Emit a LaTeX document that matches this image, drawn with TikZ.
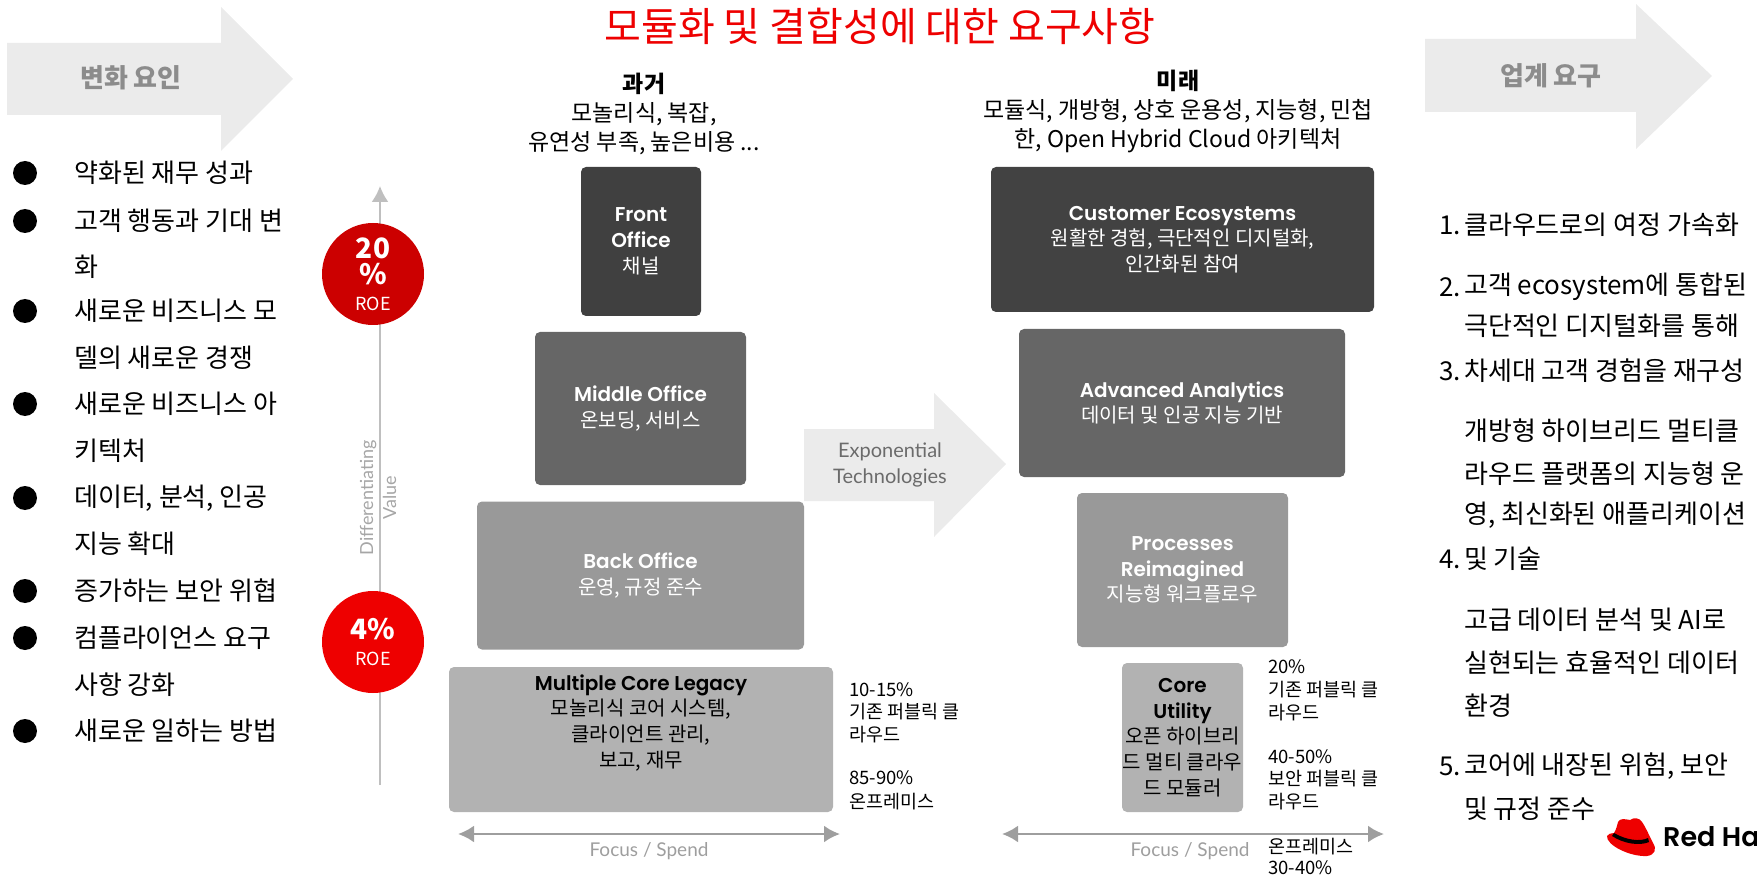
\documentclass[tikz,border=0pt]{standalone}
\usepackage{fontspec}
\setmainfont{Noto Sans CJK KR}
\newfontfamily\latinfont{Lato}
\newfontfamily\boldfont{Poppins}[BoldFont={Poppins SemiBold}]
\usetikzlibrary{arrows.meta, calc, positioning}
\definecolor{rhred}{HTML}{EE0000}
\definecolor{rhdark}{HTML}{CC0000}
\definecolor{pale}{HTML}{EBEBEB}
\newcommand{\fsz}[2]{\fontsize{#1}{#2}\selectfont}
\newcommand{\hd}[1]{{\boldfont\bfseries #1}}
\newcommand{\pct}[1]{{\bfseries\fsz{28}{33}\selectfont #1}}
\tikzset{
  listline/.style={anchor=west,inner sep=0pt,font=\fsz{26}{30}},
  blob/.style={circle,fill=black,minimum size=24pt,inner sep=0pt},
  headtext/.style={align=center,inner sep=0pt,font=\fsz{23}{29}},
  tier/.style={draw=none,rounded corners=5pt,align=center,inner sep=0pt,text=white,font=\fsz{20}{25.7}},
  sidetext/.style={anchor=west,inner sep=0pt,font=\fsz{18.5}{22}},
  graytext/.style={inner sep=0pt,align=center,text=black!58,font=\latinfont\fsz{20}{26}},
  spendline/.style={{Latex[length=16pt,width=17pt]}-{Latex[length=16pt,width=17pt]},line width=2.5pt,draw=black!38},
  roecircle/.style={circle,minimum size=102pt,inner sep=0pt,align=center,text=white,font=\fsz{18}{26}}
}
\begin{document}
\begin{tikzpicture}[x=1pt,y=-1pt]
  \useasboundingbox (0,0) rectangle (1757,877);

  % --- Title ---
  \node[inner sep=0pt,text=rhred,font=\fsz{40}{44}] (title) at (880,26) {모듈화 및 결합성에 대한 요구사항};

  % --- Block arrows ---
  \fill[pale] (7,43) -- (221,43) -- (221,7) -- (293,79) -- (221,151) -- (221,115) -- (7,115) -- cycle;
  \node[inner sep=0pt,text=black!45,font=\bfseries\fsz{26}{30}] (driver) at (131,78) {변화 요인};
  \fill[pale] (1425,39) -- (1636,39) -- (1636,4) -- (1712,76) -- (1636,149) -- (1636,112) -- (1425,112) -- cycle;
  \node[inner sep=0pt,text=black!45,font=\bfseries\fsz{26}{30}] (demand) at (1551,76) {업계 요구};
  \fill[pale] (804,429) -- (934,429) -- (934,393) -- (1006,464) -- (934,537) -- (934,501) -- (804,501) -- cycle;
  \node[graytext] (expo) at (890,465) {Exponential\\Technologies};

  % --- Left list ---
  \foreach \y in {173,221,311,404,498,591,638,731}{
    \node[blob] (dot\y) at (25,\y) {};
  }
  \foreach \y/\t in {173/약화된 재무 성과,221/고객 행동과 기대 변,267/화,311/새로운 비즈니스 모,358/델의 새로운 경쟁,
  404/새로운 비즈니스 아,451/키텍처,498/{데이터, 분석, 인공},544/지능 확대,591/증가하는 보안 위협,
  638/컴플라이언스 요구,685/사항 강화,731/새로운 일하는 방법}{
    \node[listline] (left\y) at (74,\y) {\t};
  }

  % --- Value axis ---
  \coordinate (axisbot) at (380,785);
  \coordinate (axistop) at (380,186);
  \draw[-{Latex[length=16pt,width=17pt]},line width=2pt,draw=black!25] (axisbot) -- (axistop);
  \node[roecircle,fill=rhdark] (high) at (373,274) {\pct{20}\\\pct{\%}\\ROE};
  \node[roecircle,fill=rhred] (low) at (373,642) {\pct{4\%}\\ROE};
  \node[inner sep=0pt,rotate=90,align=center,text=black!35,font=\latinfont\fsz{18}{23}] (diff) at (378,498) {Differentiating\\Value};

  % --- Past column ---
  \node[headtext] (past) at (644,114) {\textbf{과거}\\모놀리식, 복잡,\\유연성 부족, 높은비용 ...};
  \node[tier,fill=black!75,minimum width=120pt,minimum height=149pt] (front) at (641,241.5)
    {\hd{Front}\\\hd{Office}\\채널};
  \node[tier,fill=black!60,minimum width=211pt,minimum height=153pt] (middle) at (640.5,408.5)
    {\hd{Middle Office}\\온보딩, 서비스};
  \node[tier,fill=black!40,minimum width=327pt,minimum height=148pt] (back) at (640.5,575.5)
    {\hd{Back Office}\\운영, 규정 준수};
  \node[tier,fill=black!30,text=black,minimum width=384pt,minimum height=145pt] (legacy) at (641,739.5)
    {\hd{Multiple Core Legacy}\\모놀리식 코어 시스템,\\클라이언트 관리,\\보고, 재무\\[4pt]\strut};
  \foreach \y/\t in {690/10-15\%,712/기존 퍼블릭 클,735/라우드,778/85-90\%,802/온프레미스}{
    \node[sidetext] (pastside\y) at (849,\y) {\t};
  }

  % --- Future column ---
  \node[headtext] (future) at (1178,111) {\textbf{미래}\\모듈식, 개방형, 상호 운용성, 지능형, 민첩\\한, Open Hybrid Cloud 아키텍처};
  \node[tier,fill=black!74,minimum width=383pt,minimum height=145pt] (customer) at (1182.5,239.5)
    {\hd{Customer Ecosystems}\\원활한 경험, 극단적인 디지털화,\\인간화된 참여};
  \node[tier,fill=black!60,minimum width=326pt,minimum height=148pt] (analytics) at (1182,403)
    {\hd{Advanced Analytics}\\데이터 및 인공 지능 기반};
  \node[tier,fill=black!40,minimum width=211pt,minimum height=154pt] (process) at (1182.5,570)
    {\hd{Processes}\\\hd{Reimagined}\\지능형 워크플로우};
  \node[tier,fill=black!30,text=black,minimum width=121pt,minimum height=149pt] (core) at (1182.5,737.5)
    {\hd{Core}\\\hd{Utility}\\오픈 하이브리\\드 멀티 클라우\\드 모듈러};
  \foreach \y/\t in {667/20\%,690/기존 퍼블릭 클,713/라우드,757/40-50\%,779/보안 퍼블릭 클,802/라우드,847/온프레미스,868/30-40\%}{
    \node[sidetext] (futureside\y) at (1268,\y) {\t};
  }

  % --- Focus arrows ---
  \coordinate (pastl) at (458,834);
  \coordinate (pastr) at (840,834);
  \coordinate (futl) at (1002,834);
  \coordinate (futr) at (1384,834);
  \draw[spendline] (pastl) -- (pastr);
  \draw[spendline] (futl) -- (futr);
  \node[inner sep=0pt,text=black!38,font=\latinfont\fsz{19}{22}] (spendpast) at (649,851) {Focus / Spend};
  \node[inner sep=0pt,text=black!38,font=\latinfont\fsz{19}{22}] (spendfut) at (1190,851) {Focus / Spend};

  % --- Right list ---
  \foreach \y/\n in {225/1.,287/2.,371/3.,559/4.,766/5.}{
    \node[listline] (num\y) at (1439,\y) {\n};
  }
  \foreach \y/\t in {225/클라우드로의 여정 가속화,287/고객 ecosystem에 통합된,326/극단적인 디지털화를 통해,
  371/차세대 고객 경험을 재구성,431/개방형 하이브리드 멀티클,474/라우드 플랫폼의 지능형 운,
  515/{영, 최신화된 애플리케이션},559/및 기술,620/고급 데이터 분석 및 AI로,663/실현되는 효율적인 데이터,
  706/환경,766/{코어에 내장된 위험, 보안},809/및 규정 준수}{
    \node[listline] (right\y) at (1464,\y) {\t};
  }

  % --- Logo ---
  \fill[rhred] (1607,836) .. controls (1606,845) and (1630,857) .. (1647,856)
    .. controls (1655,855) and (1657,849) .. (1653,843)
    .. controls (1649,835) and (1645,826) .. (1642,822)
    .. controls (1640,818) and (1634,817) .. (1630,820)
    .. controls (1625,819) and (1620,818) .. (1618,822)
    .. controls (1617,826) and (1616,830) .. (1614,833)
    .. controls (1611,833) and (1608,834) .. (1607,836) -- cycle;
  \fill[black] (1614,833) .. controls (1626,840) and (1640,842) .. (1648,838)
    -- (1649,842) .. controls (1640,846) and (1624,844) .. (1612,836) -- cycle;
  \node[anchor=west,inner sep=0pt,font=\boldfont\bfseries\fsz{27}{30}] (redhat) at (1663,837) {Red Hat};
\end{tikzpicture}
\end{document}
